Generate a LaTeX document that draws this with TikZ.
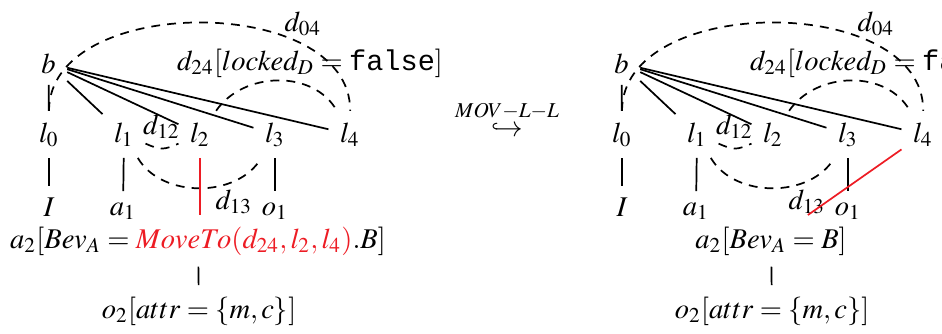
\documentclass[tikz,border=0pt]{standalone}
\usepackage{mathptmx}
\usepackage[no-math]{fontspec}
\setmainfont{Liberation Serif}
\setmonofont{Liberation Mono}
\definecolor{mred}{RGB}{237,28,36}
\newcommand\commonpart{%
  \node (b)  at (48.5,73) {$b$};
  \node (l0) at (49,142)  {$l_0$};
  \node (l1) at (124,142) {$l_1$};
  \node (l2) at (200,142) {$l_2$};
  \node (l3) at (275,142) {$l_3$};
  \node (l4) at (350,142) {$l_4$};
  \node (I)  at (49,216)  {$I$};
  \node (a1) at (123,215) {$a_1$};
  \node (o1) at (275,215) {$o_1$};
  \node (o2) at (199,318) {$o_2[attr=\{m,c\}]$};
  \node (d04) at (303,31) {$d_{04}$};
  \node (d24) at (310,70) {$d_{24}[locked_D=\texttt{false}]$};
  \node (d12) at (161.5,134) {$d_{12}$};
  \node (d13) at (234,209) {$d_{13}$};
  \draw[ln] (b) -- (l0);
  \draw[ln] (b) -- (l1);
  \draw[ln] (b) -- (l2);
  \draw[ln] (b) -- (l3);
  \draw[ln] (b) -- (l4);
  \draw[ln] (l0) -- (I);
  \draw[ln] (l1) -- (a1);
  \draw[ln] (l3) -- (o1);
  \draw[dd] (l0) .. controls (49,-7) and (351,-7) .. (l4);
  \draw[dd] (l2) .. controls (243,71.5) and (313.5,69) .. (l4);
  \draw[dd] (l1) .. controls (160.8,150.2) and (163.2,150.2) .. (l2);
  \draw[dd] (l1) .. controls (161.5,198.4) and (237.5,198.4) .. (l3);
}
\begin{document}
\begin{tikzpicture}[x=0.35pt,y=-0.35pt,
  every node/.style={anchor=base,inner sep=3.85pt},
  ln/.style={line width=0.6pt},
  dd/.style={line width=0.6pt,dash pattern=on 3.1pt off 2.5pt},
  rl/.style={line width=0.6pt,draw=mred}]
\useasboundingbox (0,0) rectangle (942,333);
\clip (0,0) rectangle (942,333);
\begin{scope}[name prefix=L-]
  \commonpart
  \node (a2) at (198,248) {$a_2[Bev_A=\textcolor{mred}{MoveTo(d_{24},l_2,l_4)}.B]$};
  \draw[ln] (a2) -- (o2);
  \draw[rl] (l2) -- (l2 |- a2.north);
\end{scope}
\node (mov) at (507,136) {$\stackrel{MOV-L-L}{\hookrightarrow}$};
\begin{scope}[shift={(573,0)},name prefix=R-]
  \commonpart
  \node (a2) at (198,248) {$a_2[Bev_A=B]$};
  \draw[ln] (a2) -- (o2);
  \draw[rl] (l4) -- (a2);
\end{scope}
\end{tikzpicture}
\end{document}
